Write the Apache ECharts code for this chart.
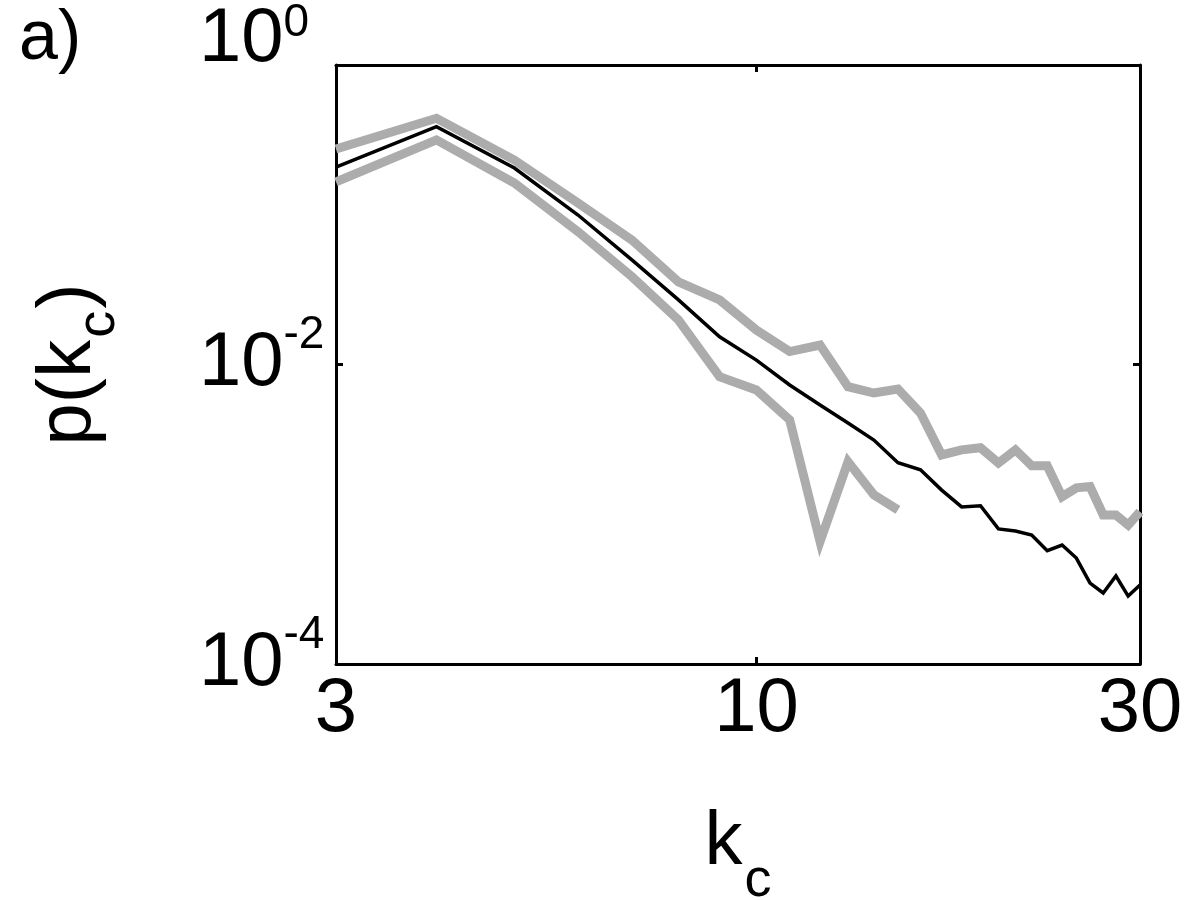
<!DOCTYPE html>
<html>
<head>
<meta charset="utf-8">
<script src="https://cdn.jsdelivr.net/npm/echarts@6/dist/echarts.min.js"></script>
<style>
  html, body { margin: 0; padding: 0; background: #fff; }
  #chart { width: 1201px; height: 900px; }
</style>
</head>
<body>
<div id="chart"></div>
<script>
// k_c values (log x axis)
const kc = [3, 4, 5, 6, 7, 8, 9, 10, 11, 12, 13, 14, 15, 16, 17, 18, 19, 20,
            21, 22, 23, 24, 25, 26, 27, 28, 29, 30];
// black curve
const pMean = [0.208, 0.387, 0.205, 0.0996, 0.0499, 0.027, 0.0153, 0.0107, 0.0073,
               0.00537, 0.00407, 0.00313, 0.00221, 0.00198, 0.00145, 0.00112, 0.00114,
               0.000798, 0.000773, 0.000727, 0.000571, 0.000623, 0.00051, 0.000347,
               0.000298, 0.000387, 0.000284, 0.000337];
// upper grey curve
const pUpper = [0.275, 0.441, 0.232, 0.12, 0.0678, 0.0356, 0.027, 0.017, 0.0122,
                0.0135, 0.00711, 0.00645, 0.00686, 0.00474, 0.00249, 0.00269, 0.00278,
                0.0022, 0.00269, 0.00211, 0.00211, 0.00131, 0.0015, 0.00153,
                0.000989, 0.000989, 0.000848, 0.00104];
// lower grey curve (stops at k=15)
const pLower = [0.166, 0.316, 0.163, 0.0771, 0.0386, 0.0198, 0.0083, 0.00676, 0.00426,
                0.000656, 0.00224, 0.00135, 0.00107];

const xLabels = [3, 10, 30];
const xTicks = [10];
const yLabels = [1e-4, 1e-2, 1];
const yTicks = [1e-2];

const FONT = 'Liberation Sans, Arial, sans-serif';
const GREY = '#acacac';

function pairs(ys) {
  return ys.map(function (y, i) { return [kc[i], y]; });
}

const chart = echarts.init(document.getElementById('chart'));

const xBase = {
  type: 'log', logBase: 10, min: 3, max: 30,
  axisLine: { show: true, onZero: false, lineStyle: { color: '#000', width: 3 } },
  axisTick: { show: true, inside: true, length: 7, customValues: xTicks,
              lineStyle: { color: '#000', width: 3 } },
  splitLine: { show: false },
  minorTick: { show: false }
};
const yBase = {
  type: 'log', logBase: 10, min: 1e-4, max: 1,
  axisLine: { show: true, onZero: false, lineStyle: { color: '#000', width: 3 } },
  axisTick: { show: true, inside: true, length: 7, customValues: yTicks,
              lineStyle: { color: '#000', width: 3 } },
  splitLine: { show: false },
  minorTick: { show: false }
};

chart.setOption({
  animation: false,
  backgroundColor: '#fff',
  title: {
    text: 'a)', left: 14, top: 0,
    textStyle: { fontFamily: FONT, fontSize: 70, fontWeight: 'normal', color: '#000' }
  },
  grid: { left: 336, right: 61, top: 65, bottom: 236, containLabel: false,
          outerBoundsMode: 'none' },
  xAxis: [
    Object.assign({}, xBase, {
      position: 'bottom',
      axisLabel: {
        show: true, customValues: xLabels, margin: 8,
        fontFamily: FONT, fontSize: 76, color: '#000',
        formatter: function (v) { return String(Math.round(v)); }
      },
      name: '{k|k}{c|c}',
      nameLocation: 'middle',
      nameGap: 114,
      nameTextStyle: {
        rich: {
          k: { fontFamily: FONT, fontSize: 76, color: '#000' },
          c: { fontFamily: FONT, fontSize: 54, color: '#000', padding: [76, 0, 0, 2] }
        }
      }
    }),
    Object.assign({}, xBase, { position: 'top', axisLabel: { show: false } })
  ],
  yAxis: [
    Object.assign({}, yBase, {
      position: 'left',
      axisLabel: {
        show: true, customValues: yLabels, margin: 137, align: 'left',
        formatter: function (v) {
          const e = Math.round(Math.log10(v));
          if (e === 0) return '{tb|10}{ts|0}';
          return '{b|10}{s|' + e + '}';
        },
        rich: {
          b: { fontFamily: FONT, fontSize: 76, color: '#000' },
          s: { fontFamily: FONT, fontSize: 46, color: '#000', padding: [0, 0, 58, 0] },
          tb: { fontFamily: FONT, fontSize: 76, color: '#000', padding: [0, 0, 50, 0] },
          ts: { fontFamily: FONT, fontSize: 46, color: '#000', padding: [0, 0, 84, 0] }
        }
      },
      name: '{p|p(k}{c|c}{p|)}',
      nameLocation: 'middle',
      nameGap: 210,
      nameTextStyle: {
        rich: {
          p: { fontFamily: FONT, fontSize: 76, color: '#000' },
          c: { fontFamily: FONT, fontSize: 54, color: '#000', padding: [60, 2, 0, 2] }
        }
      }
    }),
    Object.assign({}, yBase, { position: 'right', axisLabel: { show: false } })
  ],
  series: [
    {
      type: 'line', name: 'upper', data: pairs(pUpper), showSymbol: false,
      lineStyle: { color: GREY, width: 9, join: 'miter', cap: 'butt' }, z: 2
    },
    {
      type: 'line', name: 'lower', data: pairs(pLower), showSymbol: false,
      lineStyle: { color: GREY, width: 9, join: 'miter', cap: 'butt' }, z: 2
    },
    {
      type: 'line', name: 'mean', data: pairs(pMean), showSymbol: false,
      lineStyle: { color: '#000', width: 3.5, join: 'miter' }, z: 3
    }
  ]
});
</script>
</body>
</html>
